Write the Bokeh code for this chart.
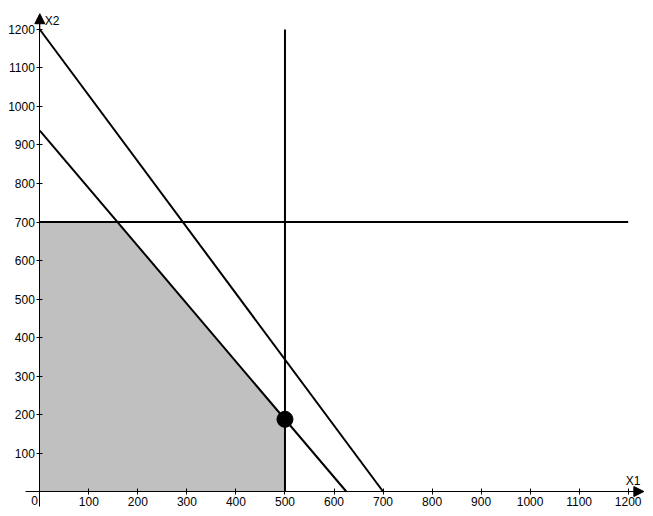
from bokeh.plotting import figure
from bokeh.models import Range1d, FixedTicker, Arrow, NormalHead
from bokeh.embed import file_html
from bokeh.resources import INLINE
from bokeh.core.properties import value

# ---- data ----
x_ticks = [100, 200, 300, 400, 500, 600, 700, 800, 900, 1000, 1100, 1200]
y_ticks = [100, 200, 300, 400, 500, 600, 700, 800, 900, 1000, 1100, 1200]

# constraint 1: 12*x1 + 7*x2 = 8400
c1_x = [0, 700]
c1_y = [1200, 0]
# constraint 2: 3*x1 + 2*x2 = 1875
c2_x = [0, 625]
c2_y = [937.5, 0]
# constraint x1 = 500
c3_x = [500, 500]
c3_y = [0, 1200]
# constraint x2 = 700
c4_x = [0, 1200]
c4_y = [700, 700]

# feasible region
region_x = [0, 0, 158.3, 500, 500]
region_y = [0, 700, 700, 187.5, 0]

# optimum point
opt_x = [500]
opt_y = [187.5]

FONT = "Liberation Sans"

p = figure(width=652, height=515, output_backend="svg", toolbar_location=None,
           x_range=Range1d(-80.2, 1249.6), y_range=Range1d(-62.3, 1275.3),
           min_border_left=0, min_border_right=0, min_border_top=0, min_border_bottom=0)
p.grid.visible = False
p.outline_line_color = None
p.background_fill_color = "white"
p.border_fill_color = "white"

p.patch(region_x, region_y, fill_color="#C0C0C0", line_color=None)

for xs, ys in [(c1_x, c1_y), (c2_x, c2_y), (c3_x, c3_y), (c4_x, c4_y)]:
    p.line(xs, ys, line_color="black", line_width=2)

p.scatter(opt_x, opt_y, size=16, fill_color="black", line_color="black")

# axes crossing at origin
p.xaxis.fixed_location = 0
p.yaxis.fixed_location = 0
p.xaxis.bounds = (-29, 1230)
p.yaxis.bounds = (-39, 1238)
for ax in (p.xaxis, p.yaxis):
    ax.axis_line_color = "black"
    ax.axis_line_width = 1
    ax.major_tick_line_color = "black"
    ax.major_tick_in = 3
    ax.major_tick_out = 3
    ax.minor_tick_line_color = None
    ax.major_label_text_font = FONT
    ax.major_label_text_font_size = "12px"
    ax.major_label_text_color = "black"
    ax.major_label_standoff = 2
p.xaxis.ticker = FixedTicker(ticks=x_ticks)
p.yaxis.ticker = FixedTicker(ticks=y_ticks)

# arrows at axis ends
p.add_layout(Arrow(end=NormalHead(size=10, fill_color="black", line_color="black", line_width=1),
                   x_start=1200, y_start=0, x_end=1232, y_end=0, line_color="black", line_width=1))
p.add_layout(Arrow(end=NormalHead(size=10, fill_color="black", line_color="black", line_width=1),
                   x_start=0, y_start=1200, x_end=0, y_end=1241, line_color="black", line_width=1))

# labels
p.text(x=[0], y=[0], text=["0"], text_font=value(FONT), text_font_size="12px",
       text_align="right", text_baseline="top", x_offset=-2, y_offset=4, text_color="black")
p.text(x=[1233], y=[0], text=["X1"], text_font=value(FONT), text_font_size="12px",
       text_align="right", text_baseline="alphabetic", x_offset=-4, y_offset=-11, text_color="black")
p.text(x=[0], y=[1241], text=["X2"], text_font=value(FONT), text_font_size="12px",
       text_align="left", text_baseline="top", x_offset=5, y_offset=0, text_color="black")

open("out.html", "w").write(file_html(p, INLINE))
